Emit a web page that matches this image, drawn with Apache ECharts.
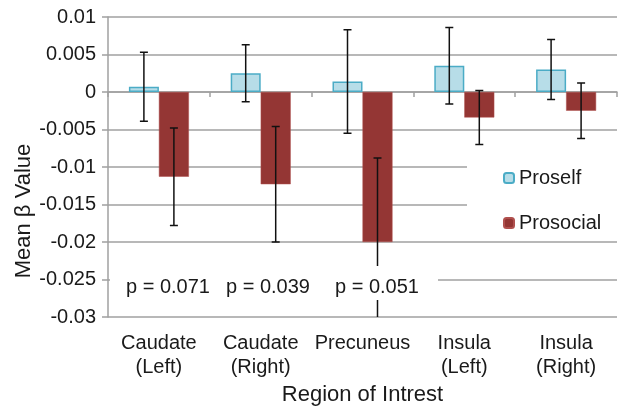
<!DOCTYPE html>
<html>
<head>
<meta charset="utf-8">
<script src="https://cdn.jsdelivr.net/npm/echarts@6/dist/echarts.min.js"></script>
<style>
  html, body { margin: 0; padding: 0; background: #fff; }
  #chart { width: 618px; height: 406px; }
</style>
</head>
<body>
<div id="chart"></div>
<script>
// values
const regions = ['Caudate\n(Left)', 'Caudate\n(Right)', 'Precuneus', 'Insula\n(Left)', 'Insula\n(Right)'];
const proself = [0.0007, 0.0025, 0.0014, 0.0035, 0.0030];
const proselfErr = [0.0046, 0.0038, 0.0069, 0.0051, 0.0040];
const prosocial = [-0.0113, -0.0123, -0.0200, -0.0034, -0.0025];
const prosocialErr = [0.0065, 0.0077, 0.0112, 0.0036, 0.0037];
const pLabels = ['p = 0.071', 'p = 0.039', 'p = 0.051'];
const yTicks = [0.01, 0.005, 0, -0.005, -0.01, -0.015, -0.02, -0.025, -0.03];

const FONT = '"Liberation Sans", Arial, sans-serif';
const GRID = { left: 108, right: 1, top: 17, bottom: 89, outerBoundsMode: 'none' };
const BAR_W = 30;
const GRAY = '#a0a0a0';
const INK = '#1a1a1a';

function errSeries(name, means, errs, side) {
  return {
    name: name + ' err',
    type: 'custom',
    clip: true,
    z: 5,
    data: means.map((m, i) => [i, m - errs[i], m + errs[i]]),
    renderItem: (params, api) => {
      const lo = api.coord([api.value(0), api.value(1)]);
      const hi = api.coord([api.value(0), api.value(2)]);
      const x = lo[0] + side * BAR_W / 2;
      const cap = 4;
      const style = { stroke: '#111', lineWidth: 1.5 };
      return {
        type: 'group',
        children: [
          { type: 'line', shape: { x1: x, y1: lo[1], x2: x, y2: hi[1] }, style },
          { type: 'line', shape: { x1: x - cap, y1: lo[1], x2: x + cap, y2: lo[1] }, style },
          { type: 'line', shape: { x1: x - cap, y1: hi[1], x2: x + cap, y2: hi[1] }, style },
        ],
      };
    },
  };
}

const chart = echarts.init(document.getElementById('chart'));
const pCenters = [168, 268, 377];

chart.setOption({
  animation: false,
  backgroundColor: '#fff',
  textStyle: { fontFamily: FONT },
  grid: GRID,
  legend: {
    data: ['Proself', 'Prosocial'],
    orient: 'vertical',
    left: 498,
    top: 163,
    itemWidth: 10,
    itemHeight: 10,
    itemGap: 25,
    textStyle: { fontSize: 20, lineHeight: 20, color: INK, fontFamily: FONT },
  },
  xAxis: [
    {
      type: 'category',
      data: regions,
      position: 'bottom',
      axisLine: { show: false, onZero: false },
      axisTick: { show: false },
      axisLabel: { interval: 0, fontSize: 20, color: INK, lineHeight: 24, margin: 14 },
      name: 'Region of Intrest',
      nameLocation: 'middle',
      nameGap: 66,
      nameTextStyle: { fontSize: 22, color: INK },
    },
    {
      type: 'category',
      data: regions,
      position: 'bottom',
      axisLine: { show: true, onZero: true, lineStyle: { color: GRAY, width: 1.5 } },
      axisTick: { show: true, length: 5, lineStyle: { color: GRAY, width: 1.5 } },
      axisLabel: { show: false },
    },
  ],
  yAxis: {
    type: 'value',
    min: -0.03,
    max: 0.01,
    interval: 0.005,
    axisLine: { show: true, lineStyle: { color: GRAY, width: 1.5 } },
    axisTick: { show: true, length: 6, lineStyle: { color: GRAY, width: 1.5 } },
    splitLine: { lineStyle: { color: GRAY, width: 1.5 } },
    axisLabel: {
      fontSize: 20, color: INK, margin: 12,
      formatter: v => {
        const t = yTicks.find(k => Math.abs(k - v) < 1e-9);
        return t === undefined ? '' : String(t);
      },
    },
  },
  graphic: [
    // y axis title sits lower than the axis middle in the original
    {
      type: 'text', z: 11, x: 24, y: 211, rotation: Math.PI / 2,
      style: { text: 'Mean β Value', font: '22px ' + FONT, fill: INK, textAlign: 'center', textVerticalAlign: 'middle' },
    },
    // white boxes behind the legend and the p-value notes (they hide gridlines)
    { type: 'rect', z: 1, shape: { x: 467, y: 150, width: 150, height: 84 }, style: { fill: '#fff' } },
    { type: 'rect', z: 10, shape: { x: 110, y: 266, width: 328, height: 34 }, style: { fill: '#fff' } },
    ...pLabels.map((t, i) => ({
      type: 'text', z: 11, x: pCenters[i], y: 287,
      style: { text: t, font: '20px ' + FONT, fill: INK, textAlign: 'center', textVerticalAlign: 'middle' },
    })),
  ],
  series: [
    {
      name: 'Proself',
      type: 'bar',
      data: proself,
      barWidth: BAR_W,
      barGap: '0%',
      itemStyle: { color: '#b7dde8', borderColor: '#4bacc6', borderWidth: 1.5 },
    },
    {
      name: 'Prosocial',
      type: 'bar',
      data: prosocial,
      barWidth: BAR_W,
      barGap: '0%',
      itemStyle: { color: '#943634', borderColor: '#b0504e', borderWidth: 0.5 },
    },
    errSeries('Proself', proself, proselfErr, -1),
    errSeries('Prosocial', prosocial, prosocialErr, 1),
  ],
});
</script>
</body>
</html>
